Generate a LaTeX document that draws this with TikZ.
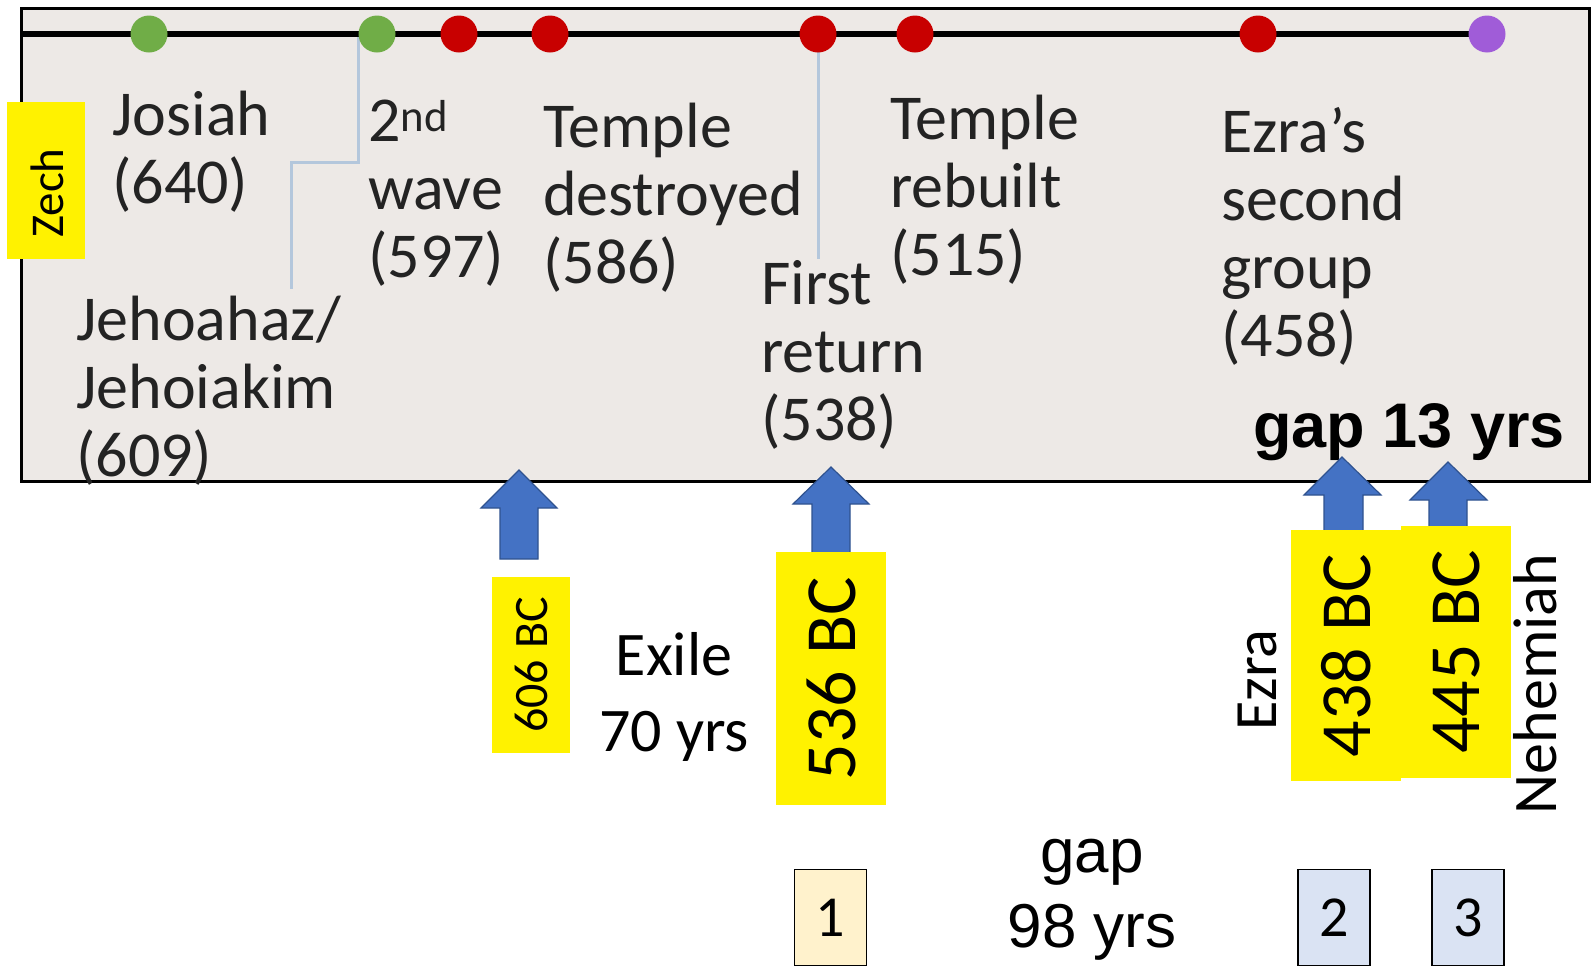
\documentclass[tikz,border=0pt]{standalone}
\usepackage{fontspec}
\setmainfont{Carlito}
\newfontfamily\arialf{Liberation Sans}
\newcommand\tlab[1]{\vtop{\halign{##\hfil\cr#1\crcr}}}
\newcommand\tlabc[1]{\vtop{\halign{\hfil##\hfil\cr#1\crcr}}}
\definecolor{panelbg}{RGB}{237,233,230}
\definecolor{txtgray}{RGB}{35,35,35}
\definecolor{dgreen}{RGB}{112,173,71}
\definecolor{dred}{RGB}{200,0,0}
\definecolor{dpurple}{RGB}{160,92,216}
\definecolor{connblue}{RGB}{180,199,220}
\definecolor{arrfill}{RGB}{68,114,196}
\definecolor{arrdraw}{RGB}{47,82,143}
\definecolor{numA}{RGB}{255,242,204}
\definecolor{numB}{RGB}{218,227,243}
\begin{document}
\begin{tikzpicture}[x=1pt,y=-1pt,
  dot/.style={circle,minimum size=37pt,inner sep=0pt},
  lbl/.style={anchor=base west,inner sep=0pt,text=txtgray,font=\fontsize{64}{68}\selectfont},
  conn/.style={draw=connblue,line width=3pt},
  blockarrow/.style={fill=arrfill,draw=arrdraw,line width=1.2pt,line join=miter},
  ybox/.style={fill=yellow,inner sep=0pt,rotate=90,anchor=center},
  numbox/.style={draw=black,line width=1.5pt,inner sep=0pt,minimum width=72pt,minimum height=96pt,font=\fontsize{58}{60}\selectfont,text depth=0pt}
]
\useasboundingbox (0,0) rectangle (1591,967);
\fill[white] (0,0) rectangle (1591,967);
% panel
\draw[line width=3pt,fill=panelbg] (21,8) rectangle (1589,481);
% coordinates for free connector ends
\coordinate (tlstart) at (21,34);
\coordinate (jtop) at (291,289);
\coordinate (frtop) at (818,259);
% connectors
\node[dot] (g2) at (377,34) {};
\node[dot] (r3) at (818,34) {};
\draw[conn] (g2.west) -- (g2.west |- 0,162) -- (jtop |- 0,162) -- (jtop);
\draw[conn] (r3.center) -- (frtop);
% timeline
\node[dot] (pu) at (1487,34) {};
\draw[line width=6pt] (tlstart) -- (pu.center);
% dots
\node[dot,fill=dgreen] (g1) at (149,34) {};
\node[dot,fill=dgreen] at (g2) {};
\node[dot,fill=dred] (r1) at (459,34) {};
\node[dot,fill=dred] (r2) at (550,34) {};
\node[dot,fill=dred] at (r3) {};
\node[dot,fill=dred] (r4) at (915,34) {};
\node[dot,fill=dred] (r5) at (1258,34) {};
\node[dot,fill=dpurple] at (pu) {};
% labels in panel
\node[lbl] (josiah) at (112,135) {\tlab{Josiah\cr(640)}};
\node[lbl] (jeho) at (76,340) {\tlab{Jehoahaz/\cr Jehoiakim\cr(609)}};
\node[lbl] (wave) at (368,141) {\tlab{2\textsuperscript{nd}\cr wave\cr(597)}};
\node[lbl] (tdest) at (543,147) {\tlab{Temple\cr destroyed\cr(586)}};
\node[lbl] (first) at (761,304) {\tlab{First\cr return\cr(538)}};
\node[lbl] (trebuilt) at (890,139) {\tlab{Temple\cr rebuilt\cr(515)}};
\node[lbl] (ezras) at (1221,152) {\tlab{Ezra’s\cr second\cr group\cr(458)}};
\node[anchor=base west,inner sep=0pt,font=\arialf\bfseries\fontsize{63}{70}\selectfont] (gap13) at (1253,447) {gap 13 yrs};
% Zech
\node[ybox,minimum width=157pt,minimum height=78pt] (zechbox) at (46,180.5) {};
\node[rotate=90,inner sep=0pt,font=\fontsize{47}{50}\selectfont] (zech) at (47,193) {Zech};
% arrows
\draw[blockarrow] (481,508) -- (519,470) -- (557,508) -- (538,508) -- (538,559) -- (500,559) -- (500,508) -- cycle;
\draw[blockarrow] (793,504) -- (831,467) -- (869,504) -- (850,504) -- (850,560) -- (812,560) -- (812,504) -- cycle;
\draw[blockarrow] (1304,495) -- (1342,457) -- (1381,495) -- (1363,495) -- (1363,540) -- (1324,540) -- (1324,495) -- cycle;
\draw[blockarrow] (1410,500) -- (1448,462) -- (1487,500) -- (1467,500) -- (1467,540) -- (1429,540) -- (1429,500) -- cycle;
% yellow year boxes
\node[ybox,minimum width=176pt,minimum height=78pt,font=\fontsize{48}{50}\selectfont] (y606) at (531,665) {606 BC};
\node[ybox,minimum width=253pt,minimum height=110pt,font=\fontsize{72}{76}\selectfont] (y536) at (831,678.5) {536 BC};
\node[ybox,minimum width=251pt,minimum height=110pt,font=\fontsize{72}{76}\selectfont] (y438) at (1346,655.5) {438 BC};
\node[ybox,minimum width=252pt,minimum height=110pt,font=\fontsize{72}{76}\selectfont] (y445) at (1456,652) {445 BC};
% side labels
\node[anchor=base,inner sep=0pt,font=\fontsize{62}{76}\selectfont] (exile) at (674,675) {\tlabc{Exile\cr 70 yrs}};
\node[rotate=90,inner sep=0pt,font=\fontsize{60}{64}\selectfont] (ezra) at (1257,680) {Ezra};
\node[rotate=90,inner sep=0pt,font=\fontsize{62}{64}\selectfont] (nehemiah) at (1535,684) {Nehemiah};
\node[anchor=base,inner sep=0pt,font=\arialf\fontsize{62}{75}\selectfont] (gap98) at (1092,872) {\tlabc{gap\cr 98 yrs}};
% numbered boxes
\node[numbox,fill=numA] (n1) at (830.5,917.5) {1};
\node[numbox,fill=numB] (n2) at (1334,917.5) {2};
\node[numbox,fill=numB] (n3) at (1468,917.5) {3};
\end{tikzpicture}
\end{document}
